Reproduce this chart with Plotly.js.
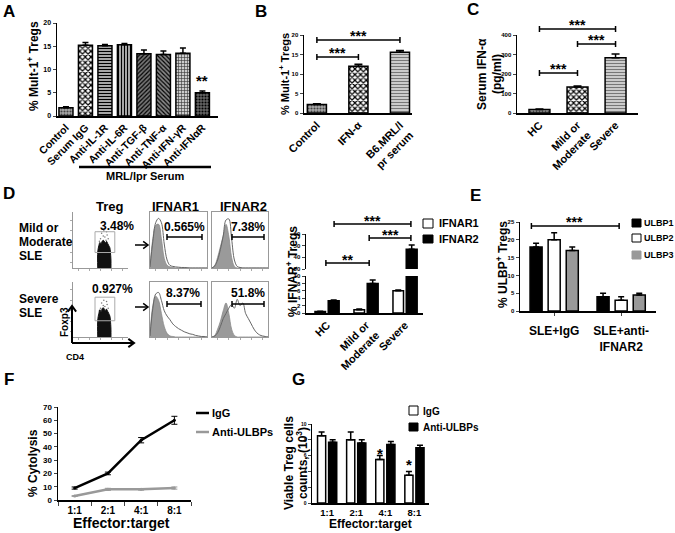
<!DOCTYPE html>
<html><head><meta charset="utf-8">
<script src="https://cdn.plot.ly/plotly-3.0.1.min.js"></script>
<style>html,body{margin:0;padding:0;background:#fff}#chart{width:675px;height:533px}</style>
</head><body><div id="chart"></div>
<script>
// ---------------- DATA ----------------
const aCategories = ['Control','Serum IgG','Anti-IL-1R','Anti-IL-6R','Anti-TGF-β','Anti-TNF-α','Anti-IFN-γR','Anti-IFNαR'];
const aValues = [1.8, 15.2, 15.1, 15.3, 13.4, 13.2, 13.5, 5.0];
const aErrors = [0.2, 0.6, 0.3, 0.3, 0.8, 0.8, 1.1, 0.4];

const bCategories = ['Control','IFN-α','B6.MRL/l<br>pr serum'];
const bValues = [2.2, 12.0, 15.6];
const bErrors = [0.2, 0.5, 0.4];

const cCategories = ['HC','Mild or<br>Moderate','Severe'];
const cValues = [18, 133, 283];
const cErrors = [3, 5, 20];

const dCategories = ['HC','Mild or<br>Moderate','Severe'];
const dIfnar1 = [0.4, 0.9, 6.0];
const dIfnar1Err = [0.1, 0.15, 0.2];
const dIfnar2 = [3.3, 8.0, 47];
const dIfnar2Err = [0.2, 0.9, 3.5];

const eCategories = ['SLE+IgG','SLE+anti-<br>IFNAR2'];
const eUlbp1 = [18, 4];   const eUlbp1Err = [1, 1];
const eUlbp2 = [20, 3];   const eUlbp2Err = [2, 1];
const eUlbp3 = [17, 4.5]; const eUlbp3Err = [1, 0.5];

const ratios = ['1:1','2:1','4:1','8:1'];
const fIgG = [9, 20, 45, 60];   const fIgGErr = [0.8, 1, 2, 3];
const fAnti = [3, 8, 8, 9];     const fAntiErr = [0.3, 0.8, 0.6, 0.8];

const gIgG = [8.5, 8.0, 5.5, 3.5];  const gIgGErr = [0.5, 1.0, 0.5, 0.5];
const gAnti = [7.7, 7.6, 7.4, 7.0]; const gAntiErr = [0.3, 0.4, 0.4, 0.3];

// flow cytometry histograms (fluorescence position 0..1, normalised count)
const histX = [0,0.05,0.1,0.15,0.2,0.25,0.3,0.35,0.4,0.45,0.5,0.55,0.6,0.65,0.7,0.75,0.8,0.85,0.9,0.95,1];
const mildIfnar1Iso   = [0.02,0.55,0.80,0.82,0.55,0.18,0.05,0.02,0.01,0,0,0,0,0,0,0,0,0,0,0,0];
const mildIfnar1Stain = [0.02,0.50,0.85,0.93,0.85,0.45,0.15,0.05,0.03,0.02,0.015,0.01,0.01,0.005,0,0,0,0,0,0,0];
const sevIfnar1Iso    = [0.02,0.60,0.78,0.70,0.45,0.20,0.07,0.02,0.01,0,0,0,0,0,0,0,0,0,0,0,0];
const sevIfnar1Stain  = [0.02,0.55,0.82,0.85,0.70,0.50,0.40,0.33,0.25,0.20,0.16,0.13,0.10,0.08,0.06,0.05,0.03,0.02,0.01,0.01,0];
const mildIfnar2Iso   = [0,0.05,0.20,0.40,0.60,0.82,0.60,0.20,0.03,0,0,0,0,0,0,0,0,0,0,0,0];
const mildIfnar2Stain = [0,0.04,0.15,0.35,0.60,0.90,0.92,0.55,0.15,0.03,0.01,0,0,0,0,0,0,0,0,0,0];
const sevIfnar2Iso    = [0,0.03,0.15,0.30,0.50,0.65,0.45,0.15,0.03,0,0,0,0,0,0,0,0,0,0,0,0];
const sevIfnar2Stain  = [0,0.02,0.08,0.20,0.35,0.45,0.55,0.62,0.55,0.72,0.60,0.65,0.45,0.35,0.25,0.15,0.08,0.04,0.02,0.01,0];
// Treg dot-plot population outline (CD4 vs Foxp3, 0..1)
const blobX = [0.45,0.45,0.47,0.49,0.51,0.53,0.55,0.57,0.59,0.61,0.63,0.65,0.67,0.68,0.69,0.69];
const blobY1 = [0,0.30,0.42,0.48,0.45,0.50,0.52,0.50,0.47,0.50,0.46,0.42,0.38,0.30,0.15,0];
const blobY2 = [0,0.32,0.45,0.52,0.48,0.54,0.56,0.53,0.50,0.53,0.49,0.45,0.40,0.32,0.15,0];
const dotsX = [0.50,0.55,0.60,0.52,0.58,0.62,0.48,0.56,0.64,0.53,0.57,0.61];
const dotsY = [0.55,0.60,0.52,0.65,0.58,0.62,0.50,0.70,0.55,0.45,0.48,0.68];

// ---------------- HELPERS ----------------
const W = 675, H = 533;
const FONT = 'Liberation Sans, Arial, sans-serif';
const fx = p => p / W;
const fy = p => 1 - p / H;
const dom = (a, b) => [fx(a), fx(b)];
const domY = (top, bottom) => [fy(bottom), fy(top)];

function yAx(top, bottom, range, dtick, anchor, extra) {
  return Object.assign({domain: domY(top, bottom), range: range, dtick: dtick, anchor: anchor,
    showline: true, linecolor: 'black', linewidth: 1.5, ticks: 'outside', ticklen: 3, tickwidth: 1,
    zeroline: false, showgrid: false, tickfont: {family: FONT, size: 7, weight: 'bold', color: 'black'}}, extra || {});
}
function xAx(l, r, range, anchor, extra) {
  return Object.assign({domain: dom(l, r), range: range, anchor: anchor, type: 'category',
    showline: true, linecolor: 'black', linewidth: 1.5, ticks: '', zeroline: false, showgrid: false,
    tickfont: {family: FONT, size: 11, weight: 'bold', color: 'black'}}, extra || {});
}
const annotations = [];
const shapes = [];
function txt(x, y, text, size, opts) {
  annotations.push(Object.assign({xref: 'paper', yref: 'paper', x: fx(x), y: fy(y), text: text, showarrow: false,
    font: {family: FONT, size: size, color: 'black', weight: 'bold'}, xanchor: 'center', yanchor: 'middle'}, opts || {}));
}
function stars(xref, x, y, text, size) {
  annotations.push({xref: xref, yref: 'paper', x: x, y: fy(y), text: text, showarrow: false,
    font: {family: FONT, size: size || 14, color: 'black', weight: 'bold'}, xanchor: 'center', yanchor: 'middle'});
}
function bracket(xref, x0, x1, y) {
  const ln = {color: 'black', width: 1.5};
  shapes.push({type: 'line', xref: xref, yref: 'paper', x0: x0, x1: x1, y0: fy(y), y1: fy(y), line: ln});
  shapes.push({type: 'line', xref: xref, yref: 'paper', x0: x0, x1: x0, y0: fy(y - 3), y1: fy(y + 3), line: ln});
  shapes.push({type: 'line', xref: xref, yref: 'paper', x0: x1, x1: x1, y0: fy(y - 3), y1: fy(y + 3), line: ln});
}
function pxRect(x0, y0, x1, y1, fill, lc) {
  shapes.push({type: 'rect', xref: 'paper', yref: 'paper', x0: fx(x0), x1: fx(x1), y0: fy(y1), y1: fy(y0),
    fillcolor: fill, line: {color: lc || 'black', width: 1}});
}
function pxLine(x0, y0, x1, y1, color, width) {
  shapes.push({type: 'line', xref: 'paper', yref: 'paper', x0: fx(x0), x1: fx(x1), y0: fy(y0), y1: fy(y1),
    line: {color: color, width: width}});
}
// arrow from (x0,y0) to (x1,y1) in pixels, with open chevron head
function pxArrow(x0, y0, x1, y1, width, head) {
  pxLine(x0, y0, x1, y1, 'black', width);
  const ang = Math.atan2(y1 - y0, x1 - x0);
  const a1 = ang + Math.PI * 0.8, a2 = ang - Math.PI * 0.8;
  const p1 = [x1 + head * Math.cos(a1), y1 + head * Math.sin(a1)];
  const p2 = [x1 + head * Math.cos(a2), y1 + head * Math.sin(a2)];
  const P = (p) => fx(p[0]).toFixed(5) + ',' + fy(p[1]).toFixed(5);
  shapes.push({type: 'path', xref: 'paper', yref: 'paper', path: 'M' + P(p1) + 'L' + P([x1, y1]) + 'L' + P(p2),
    line: {color: 'black', width: width}});
}
const errUp = (arr, w) => ({type: 'data', array: arr, arrayminus: arr.map(() => 0), symmetric: false,
  color: 'black', thickness: 1.5, width: w || 3});
const barLine = {color: 'black', width: 1.5};

const traces = [];

// ---------------- PANEL A ----------------
traces.push({type: 'bar', x: aCategories, y: aValues, xaxis: 'x', yaxis: 'y', width: 0.72,
  error_y: errUp(aErrors, 3),
  marker: {color: '#999', line: barLine,
    pattern: {shape: ['.', 'x', '-', '|', '/', '\\', '+', '.'],
      fgcolor: ['#444', 'black', 'black', 'black', 'black', 'black', '#333', 'black'],
      bgcolor: ['#aaa', 'white', '#ddd', '#ddd', '#777', '#888', '#ccc', '#666'],
      size: [3, 4, 3, 3, 3, 3, 3, 3], solidity: [0.4, 0.5, 0.5, 0.5, 0.4, 0.4, 0.35, 0.4]}}});

// ---------------- PANEL B ----------------
traces.push({type: 'bar', x: bCategories, y: bValues, xaxis: 'x2', yaxis: 'y2', width: 0.46,
  error_y: errUp(bErrors, 4),
  marker: {color: '#999', line: barLine,
    pattern: {shape: ['.', 'x', '-'], fgcolor: ['#444', 'black', '#777'], bgcolor: ['#aaa', 'white', '#ddd'],
      size: [3, 4, 3], solidity: [0.4, 0.5, 0.45]}}});

// ---------------- PANEL C ----------------
traces.push({type: 'bar', x: cCategories, y: cValues, xaxis: 'x3', yaxis: 'y3', width: 0.55,
  error_y: errUp(cErrors, 4),
  marker: {color: '#999', line: barLine,
    pattern: {shape: ['.', 'x', '-'], fgcolor: ['#444', 'black', '#777'], bgcolor: ['#aaa', 'white', '#ddd'],
      size: [3, 4, 3], solidity: [0.4, 0.5, 0.45]}}});

// ---------------- PANEL D flow plots ----------------
const flowPanels = [
  {ax: 4, kind: 'treg', blob: blobY1},
  {ax: 5, kind: 'hist', iso: mildIfnar1Iso, stain: mildIfnar1Stain},
  {ax: 6, kind: 'hist', iso: mildIfnar2Iso, stain: mildIfnar2Stain},
  {ax: 7, kind: 'treg', blob: blobY2},
  {ax: 8, kind: 'hist', iso: sevIfnar1Iso, stain: sevIfnar1Stain},
  {ax: 9, kind: 'hist', iso: sevIfnar2Iso, stain: sevIfnar2Stain}
];
flowPanels.forEach(p => {
  const xa = 'x' + p.ax, ya = 'y' + p.ax;
  if (p.kind === 'hist') {
    traces.push({type: 'scatter', mode: 'lines', x: histX, y: p.iso, xaxis: xa, yaxis: ya, fill: 'tozeroy',
      fillcolor: '#9a9a9a', line: {color: '#8a8a8a', width: 0.8, shape: 'spline'}, hoverinfo: 'skip'});
    traces.push({type: 'scatter', mode: 'lines', x: histX, y: p.stain, xaxis: xa, yaxis: ya,
      line: {color: '#666', width: 1, shape: 'spline'}, hoverinfo: 'skip'});
  } else {
    traces.push({type: 'scatter', mode: 'markers', x: dotsX, y: dotsY, xaxis: xa, yaxis: ya,
      marker: {size: 1.5, color: '#777'}, hoverinfo: 'skip'});
    traces.push({type: 'scatter', mode: 'lines', x: blobX, y: p.blob, xaxis: xa, yaxis: ya, fill: 'toself',
      fillcolor: '#111', line: {color: '#111', width: 1, shape: 'spline'}, hoverinfo: 'skip'});
  }
});

// ---------------- PANEL D bars (broken axis) ----------------
['y10', 'y11'].forEach(ya => {
  traces.push({type: 'bar', x: dCategories, y: dIfnar1, xaxis: 'x10', yaxis: ya, width: 0.27, offset: -0.31,
    error_y: errUp(dIfnar1Err, 3), marker: {color: 'white', line: barLine}, name: 'IFNAR1'});
  traces.push({type: 'bar', x: dCategories, y: dIfnar2, xaxis: 'x10', yaxis: ya, width: 0.28, offset: 0.03,
    error_y: errUp(dIfnar2Err, 3), marker: {color: 'black', line: barLine}, name: 'IFNAR2'});
});

// ---------------- PANEL E ----------------
traces.push({type: 'bar', x: eCategories, y: eUlbp1, xaxis: 'x11', yaxis: 'y12', width: 0.18, offset: -0.36,
  error_y: errUp(eUlbp1Err, 3), marker: {color: 'black', line: barLine}, name: 'ULBP1'});
traces.push({type: 'bar', x: eCategories, y: eUlbp2, xaxis: 'x11', yaxis: 'y12', width: 0.18, offset: -0.09,
  error_y: errUp(eUlbp2Err, 3), marker: {color: 'white', line: barLine}, name: 'ULBP2'});
traces.push({type: 'bar', x: eCategories, y: eUlbp3, xaxis: 'x11', yaxis: 'y12', width: 0.18, offset: 0.18,
  error_y: errUp(eUlbp3Err, 3), marker: {color: '#999', line: barLine}, name: 'ULBP3'});

// ---------------- PANEL F ----------------
traces.push({type: 'scatter', mode: 'lines+markers', x: ratios, y: fIgG, xaxis: 'x12', yaxis: 'y13', name: 'IgG',
  line: {color: 'black', width: 2.5}, marker: {size: 3, color: 'black'},
  error_y: {type: 'data', array: fIgGErr, color: 'black', thickness: 1, width: 3}});
traces.push({type: 'scatter', mode: 'lines+markers', x: ratios, y: fAnti, xaxis: 'x12', yaxis: 'y13', name: 'Anti-ULBPs',
  line: {color: '#999', width: 2.5}, marker: {size: 3, color: '#999'},
  error_y: {type: 'data', array: fAntiErr, color: '#999', thickness: 1, width: 3}});

// ---------------- PANEL G ----------------
traces.push({type: 'bar', x: ratios, y: gIgG, xaxis: 'x13', yaxis: 'y14', width: 0.28, offset: -0.33,
  error_y: errUp(gIgGErr, 3), marker: {color: 'white', line: barLine}, name: 'IgG'});
traces.push({type: 'bar', x: ratios, y: gAnti, xaxis: 'x13', yaxis: 'y14', width: 0.28, offset: 0.05,
  error_y: errUp(gAntiErr, 3), marker: {color: 'black', line: barLine}, name: 'Anti-ULBPs'});

// ---------------- LAYOUT ----------------
const small = s => ({family: FONT, size: s, weight: 'bold', color: 'black'});
const layout = {
  width: W, height: H, margin: {l: 0, r: 0, t: 0, b: 0}, showlegend: false, barmode: 'overlay',
  paper_bgcolor: 'white', plot_bgcolor: 'rgba(0,0,0,0)', font: {family: FONT, color: 'black'},
  // A
  xaxis: xAx(57, 218, [-0.46, 7.8], 'y', {tickangle: -45, tickfont: small(10.5)}),
  yaxis: yAx(23, 116, [0, 20], 5, 'x'),
  // B
  xaxis2: xAx(304, 412, [-0.31, 2.29], 'y2', {tickangle: -45}),
  yaxis2: yAx(35, 113, [0, 20], 5, 'x2', {tickfont: small(6)}),
  // C
  xaxis3: xAx(517, 638, [-0.59, 2.59], 'y3', {tickangle: -45}),
  yaxis3: yAx(35, 113, [0, 400], 100, 'x3', {tickfont: small(6)}),
  // D bars
  xaxis10: xAx(306, 423, [-0.54, 2.46], 'y10', {tickangle: -45}),
  yaxis10: yAx(276, 313, [0, 10], 2, 'x10', {tickfont: small(6)}),
  yaxis11: yAx(234, 269, [30, 60], 10, 'x10', {tickfont: small(6)}),
  // E
  xaxis11: xAx(520, 656, [-0.51, 1.52], 'y12', {ticks: 'outside', ticklen: 3, ticklabelstandoff: 5,
    tickfont: small(12)}),
  yaxis12: yAx(222, 311, [0, 25], 5, 'x11', {tickfont: small(6)}),
  // F
  xaxis12: xAx(58, 191, [-0.5, 3.5], 'y13', {ticks: 'outside', ticklen: 4, tickson: 'boundaries',
    tickfont: small(10)}),
  yaxis13: yAx(407, 500, [0, 70], 10, 'x12', {tickfont: small(8)}),
  // G
  xaxis13: xAx(312, 429, [-0.52, 3.5], 'y14', {tickfont: small(9.5), ticklabelstandoff: 0}),
  yaxis14: yAx(424, 503, [0, 10], 2, 'x13', {tickfont: small(5)}),
  annotations: annotations, shapes: shapes
};

// flow axes
const flowBoxes = {4: [73, 128, 212, 268], 5: [150, 207, 212, 268], 6: [212, 268, 212, 268],
                   7: [73, 128, 282, 337], 8: [150, 207, 282, 337], 9: [212, 268, 282, 337]};
Object.keys(flowBoxes).forEach(k => {
  const [l, r, t, b] = flowBoxes[k];
  const isTreg = (k === '4' || k === '7');
  const common = {showline: true, linecolor: '#999', linewidth: 1, mirror: !isTreg, ticks: 'outside', ticklen: 2,
    tickcolor: '#aaa', tickvals: [0.1, 0.3, 0.5, 0.7, 0.9], showticklabels: false, showgrid: false, zeroline: false,
    range: [0, 1]};
  layout['xaxis' + k] = Object.assign({}, common, {domain: dom(l, r), anchor: 'y' + k});
  layout['yaxis' + k] = Object.assign({}, common, {domain: domY(t, b), anchor: 'x' + k, range: [0, 1.05],
    ticks: isTreg ? 'outside' : ''});
});

// gates on Treg plots
shapes.push({type: 'rect', xref: 'x4', yref: 'y4', x0: 0.4, x1: 0.76, y0: 0.29, y1: 0.68, line: {color: '#aaa', width: 1}});
shapes.push({type: 'rect', xref: 'x7', yref: 'y7', x0: 0.4, x1: 0.76, y0: 0.31, y1: 0.76, line: {color: '#aaa', width: 1}});

// ---------------- TEXT: panel letters ----------------
txt(9, 11, 'A', 17); txt(261, 11, 'B', 17); txt(473, 9, 'C', 17); txt(9, 193, 'D', 17);
txt(476, 195, 'E', 17); txt(9, 379, 'F', 17); txt(298, 379, 'G', 17);

// A
txt(33, 66, '% Mult-1<sup>+</sup> Tregs', 12, {textangle: -90});
pxLine(79, 167, 211, 167, 'black', 2.5);
txt(145, 176, 'MRL/lpr Serum', 11);
stars('x', 7, 80, '**', 15);

// B
txt(284, 74, '% Mult-1<sup>+</sup> Tregs', 11, {textangle: -90});
bracket('x2', 0, 2, 40); stars('x2', 1, 36, '***', 14);
bracket('x2', 0, 1, 57); stars('x2', 0.5, 53, '***', 14);

// C
txt(482, 74, 'Serum IFN-α', 12, {textangle: -90});
txt(497, 74, '(pg/ml)', 12, {textangle: -90});
bracket('x3', 0, 2, 29); stars('x3', 1, 25, '***', 14);
bracket('x3', 1, 2, 44); stars('x3', 1.5, 40, '***', 14);
bracket('x3', 0, 1, 73); stars('x3', 0.5, 69, '***', 14);

// D flow texts
txt(110, 206, 'Treg', 13); txt(176, 206, 'IFNAR1', 13); txt(244, 206, 'IFNAR2', 13);
txt(17, 228, 'Mild or', 12, {xanchor: 'left'});
txt(17, 242, 'Moderate', 12, {xanchor: 'left'});
txt(17, 256, 'SLE', 12, {xanchor: 'left'});
txt(17, 299, 'Severe', 12, {xanchor: 'left'});
txt(17, 313, 'SLE', 12, {xanchor: 'left'});
txt(117, 226, '3.48%', 12); txt(113, 289, '0.927%', 12);
txt(184, 227, '0.565%', 12); txt(183, 293, '8.37%', 12);
txt(248, 227, '7.38%', 12); txt(248, 293, '51.8%', 12);
[[167, 202, 237], [167, 201, 304], [232, 264, 237], [232, 264, 304]].forEach(([a, b, y]) => {
  pxLine(a, y, b, y, 'black', 1.5); pxLine(a, y - 3, a, y + 3, 'black', 1.5); pxLine(b, y - 3, b, y + 3, 'black', 1.5);
});
// arrows between plots
pxArrow(135, 245, 148, 245, 1.5, 6);
pxArrow(135, 307, 148, 307, 1.5, 6);
// Foxp3 / CD4 axis arrows
pxArrow(72, 343, 72, 306, 2, 7);
pxArrow(72, 343, 134, 343, 2, 7);
txt(64, 322, 'Foxp3', 10, {textangle: -90});
txt(75, 357, 'CD4', 9);

// D bars
txt(292, 272, '% IFNAR<sup>+</sup> Tregs', 12, {textangle: -90});
bracket('x10', 0.18, 2.15, 224); stars('x10', 1.17, 221, '***', 14);
bracket('x10', 1.08, 2.15, 238); stars('x10', 1.62, 235, '***', 14);
bracket('x10', -0.03, 1.08, 263); stars('x10', 0.52, 260, '**', 14);
pxRect(423, 219, 433, 228, 'white'); txt(437, 223, 'IFNAR1', 11, {xanchor: 'left'});
pxRect(423, 235, 433, 243, 'black'); txt(437, 239, 'IFNAR2', 11, {xanchor: 'left'});

// E
txt(502, 265, '% ULBP<sup>+</sup> Tregs', 12, {textangle: -90});
bracket('x11', -0.34, 0.97, 226); stars('x11', 0.31, 222, '***', 14);
pxRect(632, 219, 641, 227, 'black'); txt(643, 223, 'ULBP1', 9, {xanchor: 'left', borderpad: 0});
pxRect(632, 234, 641, 242, 'white'); txt(643, 238, 'ULBP2', 9, {xanchor: 'left', borderpad: 0});
pxRect(632, 251, 641, 259, '#999', '#999'); txt(643, 255, 'ULBP3', 9, {xanchor: 'left', borderpad: 0});

// F
txt(33, 463, '% Cytolysis', 12, {textangle: -90});
txt(122, 532, 'Effector:target', 14, {yanchor: 'bottom', borderpad: 0});
pxLine(196, 413, 209, 413, 'black', 2.5); txt(210, 413, 'IgG', 11, {xanchor: 'left'});
pxLine(196, 432, 209, 432, '#999', 2.5); txt(210, 432, 'Anti-ULBPs', 11, {xanchor: 'left'});

// G
txt(289, 463, 'Viable Treg cells', 12, {textangle: -90});
txt(302, 463, 'counts, (10<sup>3</sup>)', 12, {textangle: -90});
txt(371, 532, 'Effector:target', 12, {yanchor: 'bottom', borderpad: 0});
stars('x13', 2 - 0.19, 453, '*', 15); stars('x13', 3 - 0.19, 464, '*', 15);
pxRect(409, 406, 418, 415, 'white'); txt(421, 411, 'IgG', 10, {xanchor: 'left'});
pxRect(409, 423, 418, 431, 'black'); txt(421, 427, 'Anti-ULBPs', 10, {xanchor: 'left'});

Plotly.newPlot('chart', traces, layout, {staticPlot: true, displayModeBar: false});
</script>
</body></html>
